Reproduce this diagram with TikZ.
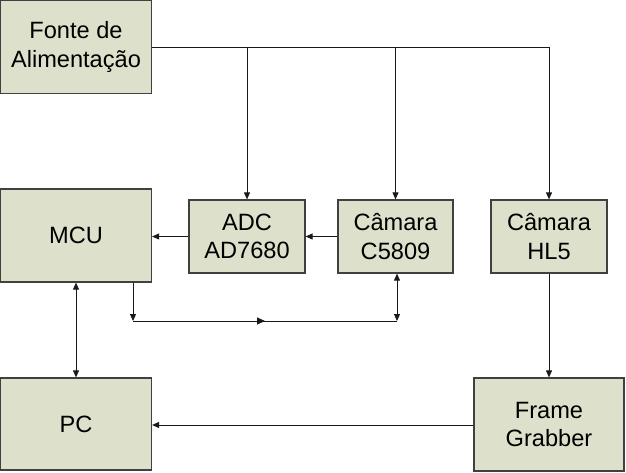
\documentclass[tikz,border=0pt]{standalone}
\usepackage{fontspec}
\setmainfont{Liberation Sans}
\usetikzlibrary{arrows.meta,decorations.markings}
\definecolor{boxfill}{HTML}{DDE1CB}
\definecolor{boxline}{HTML}{404040}
\tikzset{
	blockbox/.style={draw=boxline, fill=boxfill, line width=1.2pt, align=center,
		inner sep=0pt, font=\fontsize{23.6}{28.5}\selectfont},
	link/.style={line width=0.9pt, draw=black!90},
	tip/.style={-{Triangle[length=7pt,width=6pt]}},
	midtip/.style={decoration={markings, mark=at position 0.5 with {\arrow{Triangle[length=8pt,width=7pt]}}}, postaction={decorate}}
}
\newcommand{\block}[6]{%
% name, x, y, width, height, text
	\node[blockbox, minimum width=#4, minimum height=#5] (#1) at (#2,#3) {#6};
}
\begin{document}
\begin{tikzpicture}[x=1pt,y=-1pt]
	\useasboundingbox (0,0) rectangle (626,473);
	% blocks
	\block{fonte}{76}{47}{151pt}{93pt}{Fonte de\\Alimentação}
	\block{mcu}{76}{235.5}{151pt}{93pt}{MCU}
	\block{adc}{247}{236.5}{116pt}{73pt}{ADC\\AD7680}
	\block{camc}{395.5}{236.5}{115pt}{73pt}{Câmara\\C5809}
	\block{camhl}{549}{236.5}{116pt}{73pt}{Câmara\\HL5}
	\block{pc}{76}{424}{151pt}{92pt}{PC}
	\block{grab}{549}{424.5}{150pt}{93pt}{Frame\\Grabber}
	% power lines
	\draw[link, tip] (fonte.east |- 0,47) -| (camhl.north);
	\draw[link, tip] (adc.north |- 0,47) -- (adc.north);
	\draw[link, tip] (camc.north |- 0,47) -- (camc.north);
	% signal chain
	\draw[link, tip] (adc.west) -- (mcu.east |- adc.west);
	\draw[link, tip] (camc.west) -- (adc.east);
	\coordinate (lk) at (133,321);
	\coordinate (rk) at (397,321);
	\draw[link, tip] (mcu.south -| lk) -- (lk);
	\draw[link, midtip] (lk) -- (rk);
	\draw[link, {Triangle[length=7pt,width=6pt]}-{Triangle[length=7pt,width=6pt]}] (rk) -- (camc.south -| rk);
	\draw[link, {Triangle[length=7pt,width=6pt]}-{Triangle[length=7pt,width=6pt]}] (mcu.south) -- (pc.north);
	\draw[link, tip] (camhl.south) -- (grab.north);
	\draw[link, tip] (grab.west |- 0,425) -- (pc.east |- 0,425);
\end{tikzpicture}
\end{document}
